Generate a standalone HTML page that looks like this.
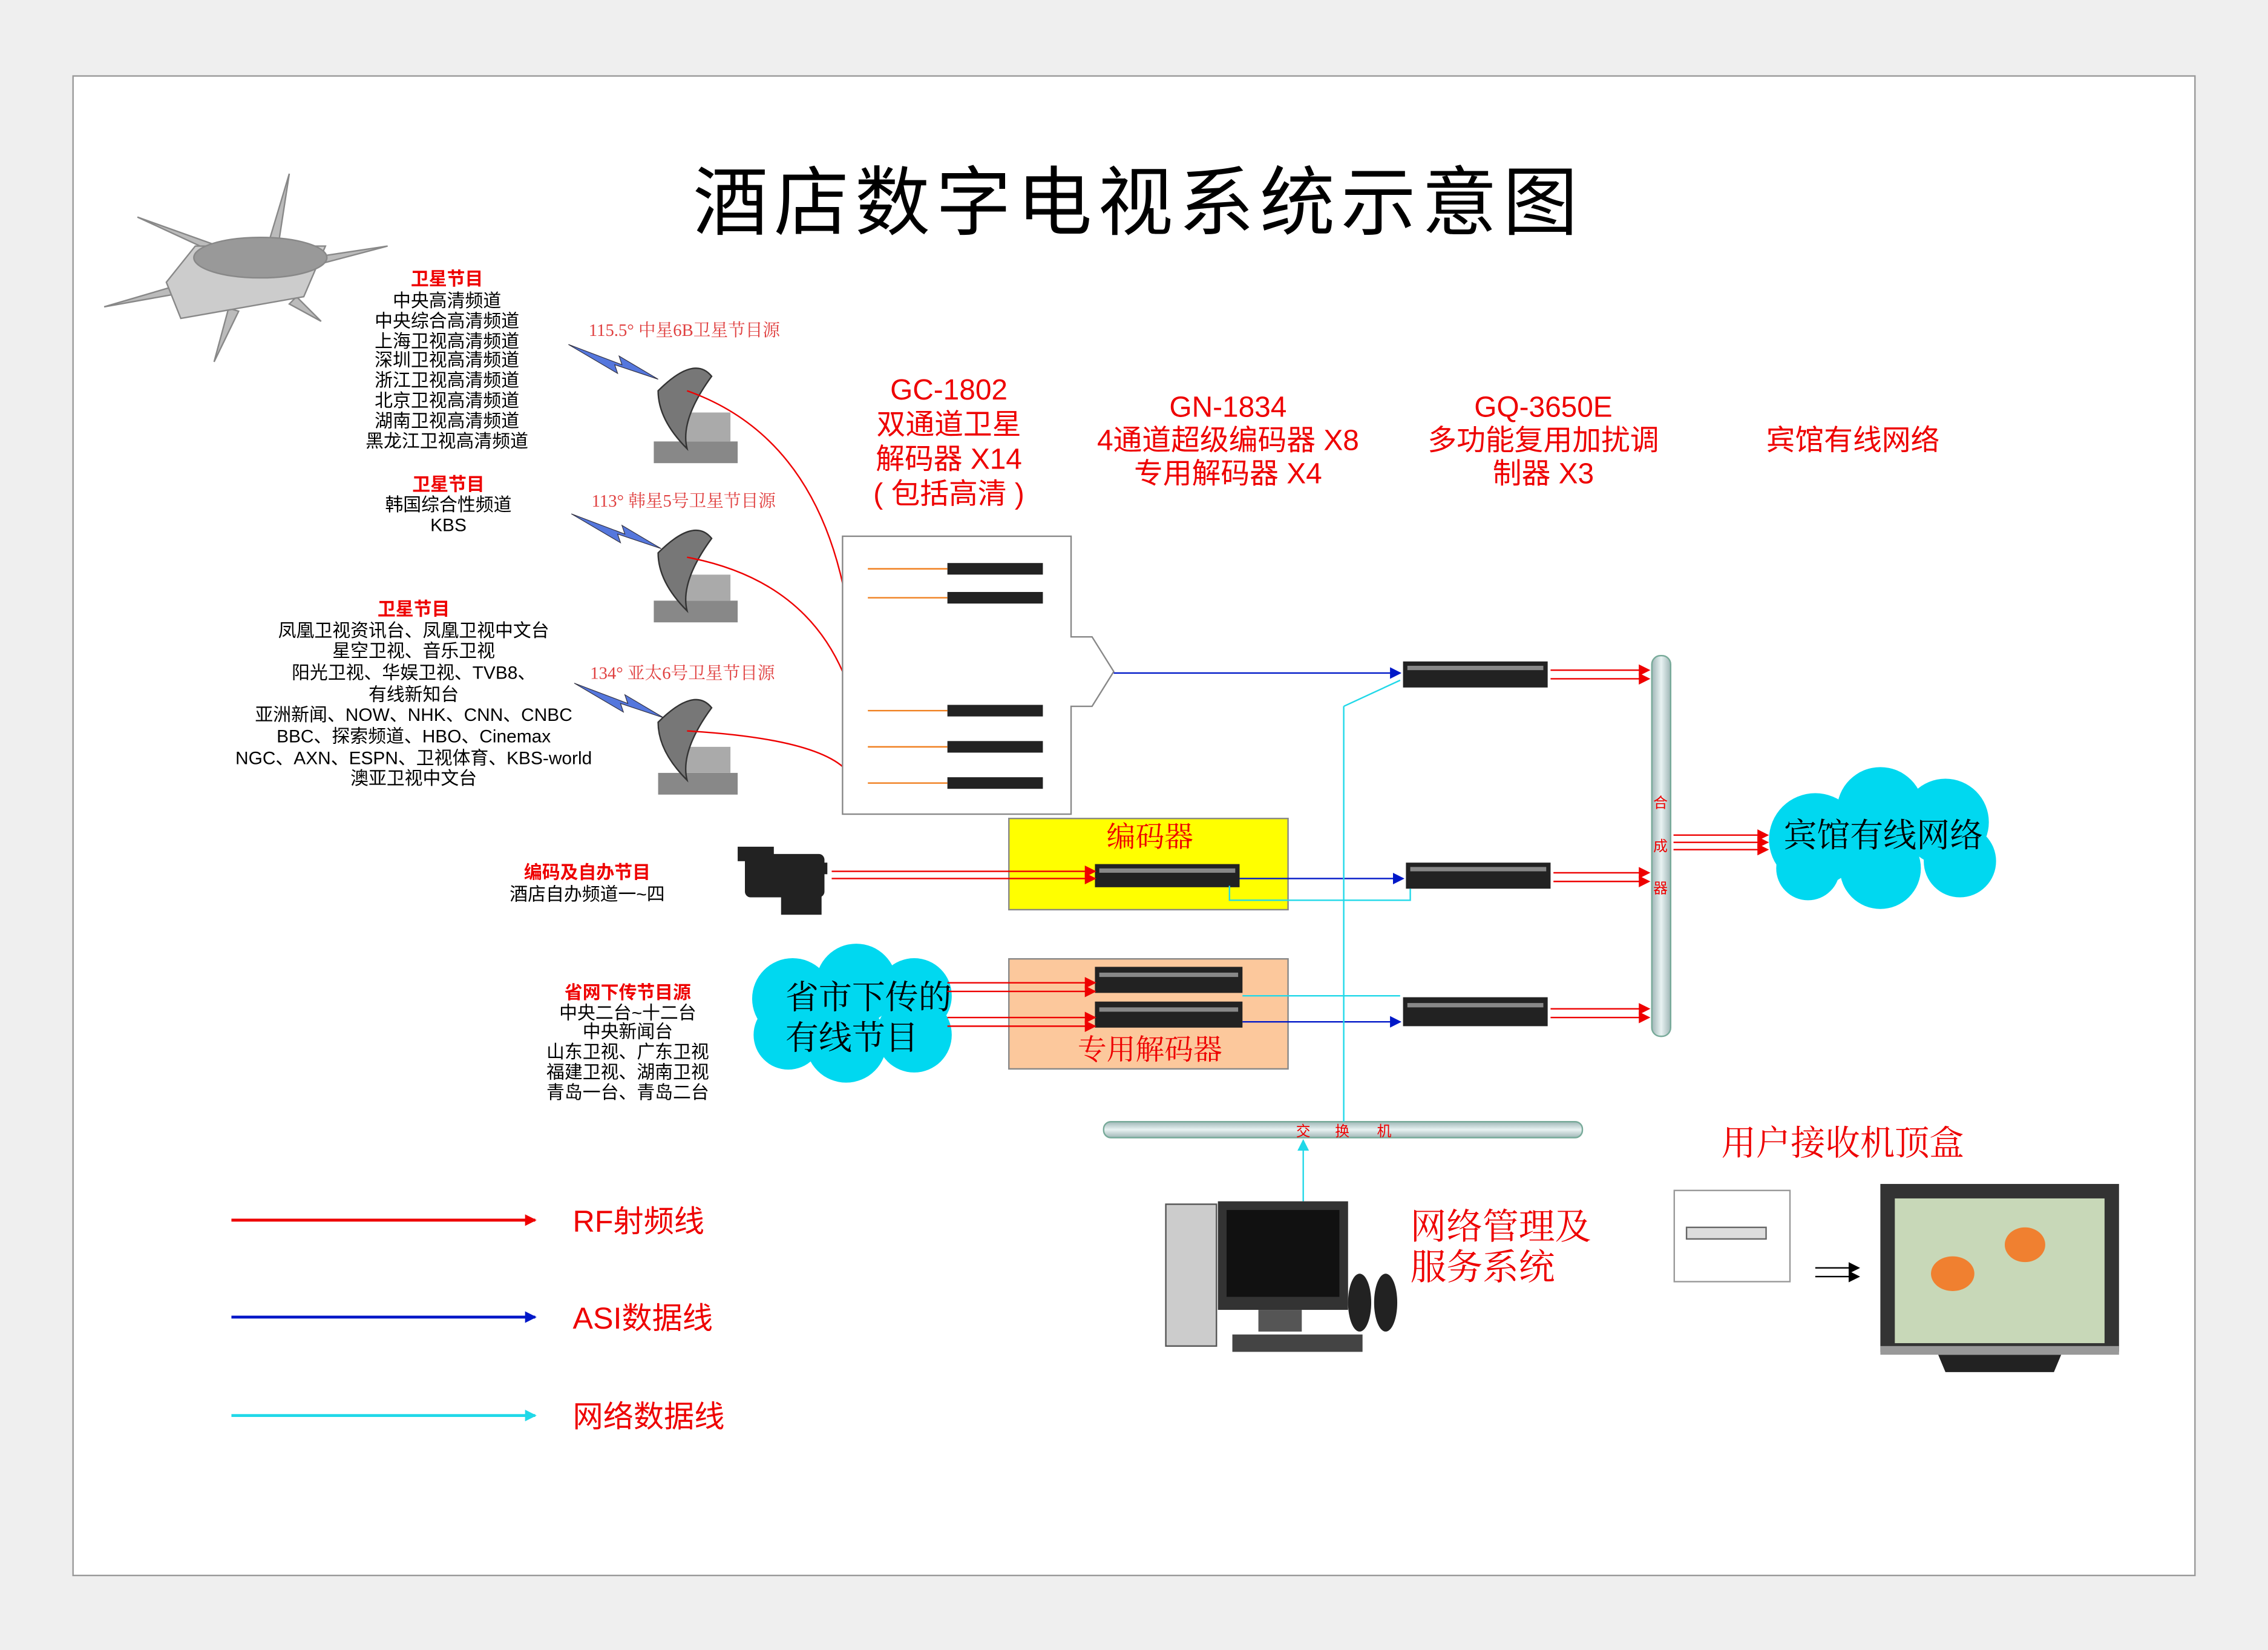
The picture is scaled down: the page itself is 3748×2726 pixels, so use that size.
<!DOCTYPE html>
<html><head><meta charset="utf-8"><style>
html,body{margin:0;padding:0;background:#efefef;}
svg{display:block;}
text{font-family:"Liberation Sans","Noto Sans CJK SC",sans-serif;}
.s{font-family:"Liberation Serif","Noto Serif CJK SC",serif;}
</style></head><body>
<svg width="3748" height="2726" viewBox="0 0 1568 1140" preserveAspectRatio="none" xmlns="http://www.w3.org/2000/svg">
<defs>
<marker id="ar" markerWidth="8" markerHeight="8" refX="7" refY="4" orient="auto" markerUnits="userSpaceOnUse"><path d="M0,0 L8,4 L0,8 z" fill="#e00"/></marker>
<marker id="ab" markerWidth="8" markerHeight="8" refX="7" refY="4" orient="auto" markerUnits="userSpaceOnUse"><path d="M0,0 L8,4 L0,8 z" fill="#0018c8"/></marker>
<marker id="ac" markerWidth="8" markerHeight="8" refX="7" refY="4" orient="auto" markerUnits="userSpaceOnUse"><path d="M0,0 L8,4 L0,8 z" fill="#20d8e8"/></marker>
<marker id="ak" markerWidth="8" markerHeight="8" refX="7" refY="4" orient="auto" markerUnits="userSpaceOnUse"><path d="M0,0 L8,4 L0,8 z" fill="#000"/></marker>
<linearGradient id="bar" x1="0" y1="0" x2="1" y2="0"><stop offset="0" stop-color="#9fb6b6"/><stop offset="0.5" stop-color="#e8f2f2"/><stop offset="1" stop-color="#9fb6b6"/></linearGradient>
<linearGradient id="barh" x1="0" y1="0" x2="0" y2="1"><stop offset="0" stop-color="#9fb6b6"/><stop offset="0.5" stop-color="#e8f2f2"/><stop offset="1" stop-color="#9fb6b6"/></linearGradient>
</defs>
<rect x="0" y="0" width="1568" height="1140" fill="#efefef"/>
<rect x="50.5" y="52.5" width="1467" height="1036" fill="#fff" stroke="#999" stroke-width="1"/>

<text x="787" y="158" font-size="52" text-anchor="middle" fill="#000" letter-spacing="4">酒店数字电视系统示意图</text>

<!-- satellite -->
<g stroke="#888" fill="#bbb">
<path d="M95,150 L165,175 L160,180 z"/><path d="M200,120 L185,170 L192,172 z"/><path d="M268,170 L215,178 L215,184 z"/>
<path d="M72,212 L130,195 L128,202 z"/><path d="M148,250 L165,215 L158,213 z"/><path d="M222,222 L205,205 L200,210 z"/>
<path d="M115,195 L135,170 L225,170 L210,205 L125,220 z" fill="#ccc"/>
<ellipse cx="180" cy="178" rx="46" ry="14" fill="#999"/>
</g>

<!-- left texts -->
<g font-size="12.5" text-anchor="middle" fill="#000">
<text x="309" y="197" fill="#e00" font-weight="bold">卫星节目</text>
<text x="309" y="212">中央高清频道</text><text x="309" y="226">中央综合高清频道</text><text x="309" y="240">上海卫视高清频道</text><text x="309" y="253">深圳卫视高清频道</text><text x="309" y="267">浙江卫视高清频道</text><text x="309" y="281">北京卫视高清频道</text><text x="309" y="295">湖南卫视高清频道</text><text x="309" y="309">黑龙江卫视高清频道</text>
<text x="310" y="339" fill="#e00" font-weight="bold">卫星节目</text>
<text x="310" y="353">韩国综合性频道</text><text x="310" y="367">KBS</text>
<text x="286" y="425" fill="#e00" font-weight="bold">卫星节目</text>
<text x="286" y="440">凤凰卫视资讯台、凤凰卫视中文台</text><text x="286" y="454">星空卫视、音乐卫视</text><text x="286" y="469">阳光卫视、华娱卫视、TVB8、</text><text x="286" y="484">有线新知台</text><text x="286" y="498">亚洲新闻、NOW、NHK、CNN、CNBC</text><text x="286" y="513">BBC、探索频道、HBO、Cinemax</text><text x="286" y="528">NGC、AXN、ESPN、卫视体育、KBS-world</text><text x="286" y="542">澳亚卫视中文台</text>
<text x="406" y="607" fill="#e00" font-weight="bold">编码及自办节目</text>
<text x="406" y="622">酒店自办频道一~四</text>
<text x="434" y="690" fill="#e00" font-weight="bold">省网下传节目源</text>
<text x="434" y="704">中央二台~十二台</text><text x="434" y="717">中央新闻台</text><text x="434" y="731">山东卫视、广东卫视</text><text x="434" y="745">福建卫视、湖南卫视</text><text x="434" y="759">青岛一台、青岛二台</text>
</g>

<g font-size="12" fill="#e04040">
<text class="s" x="407" y="232">115.5° 中星6B卫星节目源</text>
<text class="s" x="409" y="350">113° 韩星5号卫星节目源</text>
<text class="s" x="408" y="469">134° 亚太6号卫星节目源</text>
</g>
<g fill="#5577dd" stroke="#334" stroke-width="0.5">
<path d="M393,238 L430,252 L428,246 L455,262 L425,252 L427,258 z"/>
<path d="M395,355 L432,369 L430,363 L457,379 L427,369 L429,375 z"/>
<path d="M397,472 L434,486 L432,480 L459,496 L429,486 L431,492 z"/>
</g>
<g>
<g><rect x="452" y="305" width="58" height="15" fill="#888"/><path d="M470,305 L470,285 L505,285 L505,305 z" fill="#aaa"/><path d="M455,270 Q480,245 492,260 Q470,290 475,310 Q455,290 455,270 z" fill="#777" stroke="#333"/></g>
<g transform="translate(0,117)"><rect x="452" y="298" width="58" height="15" fill="#888"/><path d="M470,298 L470,280 L505,280 L505,298 z" fill="#aaa"/><path d="M455,265 Q480,240 492,255 Q470,285 475,305 Q455,285 455,265 z" fill="#777" stroke="#333"/></g>
<g transform="translate(0,234)"><rect x="455" y="300" width="55" height="15" fill="#888"/><path d="M470,300 L470,282 L505,282 L505,300 z" fill="#aaa"/><path d="M455,265 Q480,240 492,255 Q470,285 475,305 Q455,285 455,265 z" fill="#777" stroke="#333"/></g>
</g>
<g fill="none" stroke="#e00" stroke-width="1">
<path d="M475,270 Q560,300 583,405"/>
<path d="M475,385 Q555,400 583,465"/>
<path d="M475,505 Q560,510 583,530"/>
</g>

<g fill="#e00" font-size="20" text-anchor="middle">
<text x="656" y="276">GC-1802</text><text x="656" y="300">双通道卫星</text><text x="656" y="324">解码器 X14</text><text x="656" y="348">( 包括高清 )</text>
<text x="849" y="288">GN-1834</text><text x="849" y="311">4通道超级编码器 X8</text><text x="849" y="334">专用解码器 X4</text>
<text x="1067" y="288">GQ-3650E</text><text x="1067" y="311">多功能复用加扰调</text><text x="1067" y="334">制器 X3</text>
<text x="1281" y="311">宾馆有线网络</text>
</g>

<path d="M582.5,370.5 L740.5,370.5 L740.5,440 L755,440 L770,464 L755,488 L740.5,488 L740.5,562.5 L582.5,562.5 z" fill="#fff" stroke="#888"/>
<g>
<rect x="655" y="389" width="66" height="8" fill="#222"/><rect x="655" y="409" width="66" height="8" fill="#222"/>
<rect x="655" y="487" width="66" height="8" fill="#222"/><rect x="655" y="512" width="66" height="8" fill="#222"/><rect x="655" y="537" width="66" height="8" fill="#222"/>
</g>
<g stroke="#f08020" stroke-width="1">
<line x1="600" y1="393" x2="655" y2="393"/><line x1="600" y1="413" x2="655" y2="413"/><line x1="600" y1="491" x2="655" y2="491"/><line x1="600" y1="516" x2="655" y2="516"/><line x1="600" y1="541" x2="655" y2="541"/>
</g>

<rect x="697.5" y="565.5" width="193" height="63" fill="#ffff00" stroke="#888"/>
<text class="s" x="795" y="585" font-size="20" fill="#e00" text-anchor="middle">编码器</text>
<rect x="697.5" y="662.5" width="193" height="76" fill="#fcc89c" stroke="#888"/>
<text class="s" x="795" y="732" font-size="20" fill="#e00" text-anchor="middle">专用解码器</text>
<g fill="#222">
<rect x="757" y="597" width="100" height="16"/><rect x="757" y="668" width="102" height="18"/><rect x="757" y="692" width="102" height="18"/>
<rect x="970" y="457" width="100" height="18"/><rect x="972" y="596" width="100" height="18"/><rect x="970" y="689" width="100" height="20"/>
</g>
<g fill="#888"><rect x="760" y="600" width="94" height="3"/><rect x="760" y="672" width="96" height="3"/><rect x="760" y="696" width="96" height="3"/><rect x="973" y="460" width="94" height="3"/><rect x="975" y="599" width="94" height="3"/><rect x="973" y="693" width="94" height="3"/></g>

<g fill="#00d8f0">
<circle cx="1255" cy="580" r="32"/><circle cx="1300" cy="560" r="30"/><circle cx="1345" cy="568" r="30"/><circle cx="1355" cy="595" r="25"/><circle cx="1300" cy="600" r="28"/><circle cx="1250" cy="600" r="22"/>
</g>
<text class="s" x="1302" y="585" font-size="23" text-anchor="middle" fill="#000">宾馆有线网络</text>
<g fill="#00d8f0">
<circle cx="548" cy="690" r="28"/><circle cx="592" cy="680" r="28"/><circle cx="632" cy="688" r="26"/><circle cx="632" cy="715" r="26"/><circle cx="585" cy="720" r="28"/><circle cx="545" cy="715" r="24"/>
</g>
<text class="s" x="543" y="697" font-size="23" fill="#000">省市下传的</text>
<text class="s" x="543" y="725" font-size="23" fill="#000">有线节目</text>

<rect x="1142" y="453" width="13" height="263" rx="6" fill="url(#bar)" stroke="#7a9"/>
<g font-size="10" fill="#e00" text-anchor="middle"><text x="1148" y="558">合</text><text x="1148" y="588">成</text><text x="1148" y="617">器</text></g>
<rect x="763" y="775" width="331" height="11" rx="5" fill="url(#barh)" stroke="#7a9"/>
<g font-size="10" fill="#e00" text-anchor="middle"><text x="901" y="785">交</text><text x="928" y="785">换</text><text x="957" y="785">机</text></g>

<g stroke="#e00" stroke-width="1" marker-end="url(#ar)">
<line x1="575" y1="602" x2="757" y2="602"/><line x1="575" y1="607" x2="757" y2="607"/>
<line x1="655" y1="679" x2="757" y2="679"/><line x1="655" y1="685" x2="757" y2="685"/>
<line x1="655" y1="703" x2="757" y2="703"/><line x1="655" y1="709" x2="757" y2="709"/>
<line x1="1072" y1="463" x2="1140" y2="463"/><line x1="1072" y1="469" x2="1140" y2="469"/>
<line x1="1074" y1="603" x2="1140" y2="603"/><line x1="1074" y1="609" x2="1140" y2="609"/>
<line x1="1072" y1="697" x2="1140" y2="697"/><line x1="1072" y1="703" x2="1140" y2="703"/>
<line x1="1157" y1="577" x2="1222" y2="577"/><line x1="1157" y1="582" x2="1222" y2="582"/><line x1="1157" y1="587" x2="1222" y2="587"/>
</g>
<g stroke="#0018c8" stroke-width="1" marker-end="url(#ab)">
<line x1="770" y1="465" x2="968" y2="465"/><line x1="857" y1="607" x2="970" y2="607"/><line x1="859" y1="706" x2="968" y2="706"/>
</g>
<g stroke="#20d8e8" stroke-width="1" fill="none">
<line x1="929" y1="775" x2="929" y2="488"/><line x1="929" y1="488" x2="968" y2="470"/>
<polyline points="850,612 850,622 975,622 975,614"/>
<line x1="859" y1="688" x2="968" y2="688"/>
<line x1="901" y1="830" x2="901" y2="788" marker-end="url(#ac)"/>
</g>

<g fill="#222"><rect x="515" y="590" width="55" height="30" rx="4"/><rect x="540" y="608" width="28" height="24"/><rect x="510" y="585" width="25" height="10"/><rect x="550" y="596" width="22" height="8"/></g>

<g>
<rect x="806" y="832" width="35" height="98" fill="#ccc" stroke="#555"/>
<rect x="842" y="830" width="90" height="75" fill="#333"/><rect x="848" y="836" width="78" height="60" fill="#111"/>
<rect x="870" y="905" width="30" height="15" fill="#555"/>
<rect x="852" y="922" width="90" height="12" fill="#444"/>
<ellipse cx="940" cy="900" rx="8" ry="20" fill="#222"/><ellipse cx="958" cy="900" rx="8" ry="20" fill="#222"/>
</g>
<text class="s" x="975" y="856" font-size="25" fill="#e00">网络管理及</text>
<text class="s" x="975" y="884" font-size="25" fill="#e00">服务系统</text>

<text class="s" x="1190" y="798" font-size="24" fill="#e00">用户接收机顶盒</text>
<rect x="1157.5" y="822.5" width="80" height="63" fill="#fff" stroke="#999"/>
<rect x="1166" y="848" width="55" height="8" fill="#ddd" stroke="#666"/>
<g stroke="#000" marker-end="url(#ak)"><line x1="1255" y1="876" x2="1285" y2="876"/><line x1="1255" y1="882" x2="1285" y2="882"/></g>
<rect x="1300" y="818" width="165" height="116" fill="#333"/>
<rect x="1310" y="828" width="145" height="100" fill="#c8d8b8"/>
<ellipse cx="1350" cy="880" rx="15" ry="12" fill="#f08030"/><ellipse cx="1400" cy="860" rx="14" ry="12" fill="#f08030"/>
<rect x="1300" y="930" width="165" height="6" fill="#999"/>
<path d="M1340,936 L1425,936 L1420,948 L1345,948 z" fill="#222"/>

<g stroke-width="2">
<line x1="160" y1="843" x2="370" y2="843" stroke="#e00" marker-end="url(#ar)"/>
<line x1="160" y1="910" x2="370" y2="910" stroke="#0018c8" marker-end="url(#ab)"/>
<line x1="160" y1="978" x2="370" y2="978" stroke="#20d8e8" marker-end="url(#ac)"/>
</g>
<g font-size="21" fill="#e00"><text x="396" y="851">RF射频线</text><text x="396" y="918">ASI数据线</text><text x="396" y="986">网络数据线</text></g>
</svg>
</body></html>
